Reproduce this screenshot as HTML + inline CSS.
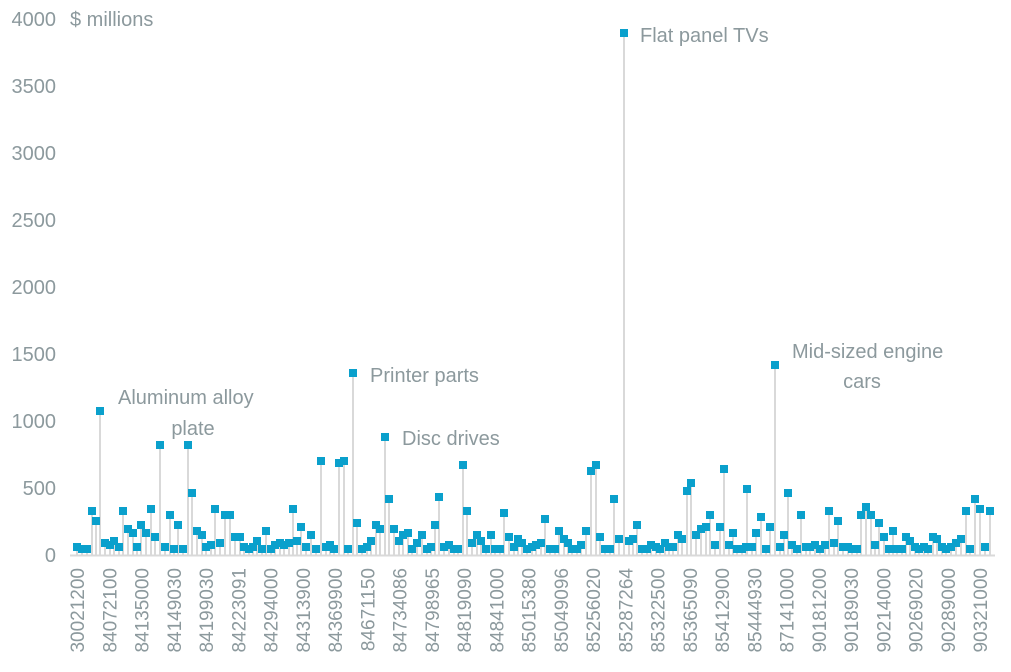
<!DOCTYPE html>
<html><head><style>
html,body{margin:0;padding:0;background:#fff;}
svg text{font-family:"Liberation Sans",sans-serif;fill:#8c999d;}
</style></head><body>
<svg id="s" width="1011" height="667" xmlns="http://www.w3.org/2000/svg">
<g font-size="20" text-anchor="end">
<text x="56" y="562">0</text><text x="56" y="495">500</text><text x="56" y="428">1000</text>
<text x="56" y="361">1500</text><text x="56" y="294">2000</text><text x="56" y="227">2500</text>
<text x="56" y="160">3000</text><text x="56" y="93">3500</text><text x="56" y="26">4000</text>
</g>
<text x="70" y="26" font-size="20">$ millions</text>
<g font-size="20">
<text x="118" y="404">Aluminum alloy</text>
<text x="193" y="435" text-anchor="middle">plate</text>
<text x="370" y="382">Printer parts</text>
<text x="402" y="445">Disc drives</text>
<text x="640" y="42">Flat panel TVs</text>
<text x="792" y="358">Mid-sized engine</text>
<text x="862" y="388" text-anchor="middle">cars</text>
</g>
<g id="st"></g>
<line x1="70" y1="555.5" x2="995" y2="555.5" stroke="#d9d9d9" stroke-width="2"/>
<g id="mk"></g>
<g id="xl" font-size="19" text-anchor="end"></g>
</svg>
<script>
var p=[[77,547],[82,549],[87,549],[92,511],[96,521],[100,411],[105,543],[110,545],[114,541],[119,547],[123,511],[128,529],[133,533],[137,547],[141,525],[146,533],[151,509],[155,537],[160,445],[165,547],[170,515],[174,549],[178,525],[183,549],[188,445],[192,493],[197,531],[202,535],[206,547],[211,545],[215,509],[220,543],[225,515],[230,515],[235,537],[240,537],[244,547],[249,549],[253,547],[257,541],[262,549],[266,531],[271,549],[275,545],[280,543],[284,545],[289,543],[293,509],[297,541],[301,527],[306,547],[311,535],[316,549],[321,461],[326,547],[330,545],[334,549],[339,463],[344,461],[348,549],[353,373],[357,523],[362,549],[367,547],[371,541],[376,525],[380,529],[385,437],[389,499],[394,529],[399,541],[403,535],[408,533],[412,549],[417,543],[422,535],[427,549],[431,547],[435,525],[439,497],[444,547],[449,545],[454,549],[458,549],[463,465],[467,511],[472,543],[477,535],[481,541],[486,549],[491,535],[495,549],[500,549],[504,513],[509,537],[514,547],[518,539],[522,543],[527,549],[532,547],[536,545],[541,543],[545,519],[550,549],[555,549],[559,531],[564,539],[568,543],[572,549],[577,549],[581,545],[586,531],[591,471],[596,465],[600,537],[605,549],[610,549],[614,499],[619,539],[624,33],[629,541],[633,539],[637,525],[642,549],[647,549],[651,545],[656,547],[660,549],[665,543],[669,547],[673,547],[678,535],[682,539],[687,491],[691,483],[696,535],[701,529],[706,527],[710,515],[715,545],[720,527],[724,469],[729,545],[733,533],[737,549],[742,549],[746,547],[747,489],[752,547],[756,533],[761,517],[766,549],[770,527],[775,365],[780,547],[784,535],[788,493],[792,545],[797,549],[801,515],[806,547],[810,547],[815,545],[820,549],[825,545],[829,511],[834,543],[838,521],[843,547],[848,547],[852,549],[857,549],[861,515],[866,507],[871,515],[875,545],[879,523],[884,537],[889,549],[893,531],[897,549],[902,549],[906,537],[910,541],[915,547],[919,549],[924,547],[928,549],[933,537],[937,539],[942,547],[946,549],[951,547],[956,543],[961,539],[966,511],[970,549],[975,499],[980,509],[985,547],[990,511]];
var ns="http://www.w3.org/2000/svg",st=document.getElementById("st"),mk=document.getElementById("mk");
p.forEach(function(a){
var l=document.createElementNS(ns,"line");l.setAttribute("x1",a[0]);l.setAttribute("x2",a[0]);l.setAttribute("y1",a[1]);l.setAttribute("y2",555);l.setAttribute("stroke","#d9d9d9");l.setAttribute("stroke-width","2");st.appendChild(l);
var r=document.createElementNS(ns,"rect");r.setAttribute("x",a[0]-4);r.setAttribute("y",a[1]-4);r.setAttribute("width",8);r.setAttribute("height",8);r.setAttribute("fill","#0aa0cc");mk.appendChild(r);});
var labs="30021200 84072100 84135000 84149030 84199030 84223091 84294000 84313900 84369900 84671150 84734086 84798965 84819090 84841000 85015380 85049096 85256020 85287264 85322500 85365090 85412900 85444930 87141000 90181200 90189030 90214000 90269020 90289000 90321000".split(" ");
var xl=document.getElementById("xl");
labs.forEach(function(t,i){var x=77+i*32.25;var e=document.createElementNS(ns,"text");e.setAttribute("transform","translate("+(x+7)+",568) rotate(-90)");e.textContent=t;xl.appendChild(e);});
</script>
</body></html>
